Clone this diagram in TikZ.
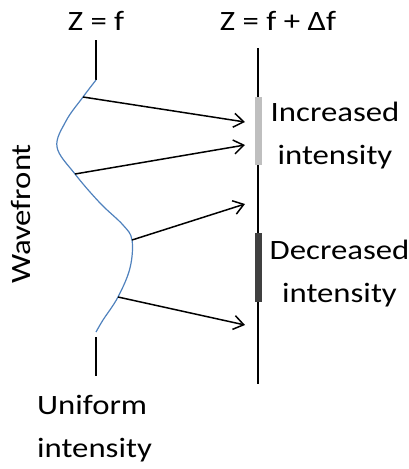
\documentclass[tikz,border=0pt]{standalone}
\usepackage{fontspec}
\setmainfont{Carlito}[FakeStretch=1.17]
\usetikzlibrary{arrows.meta}
\definecolor{waveblue}{HTML}{4F81BD}
\definecolor{lightbar}{HTML}{BFBFBF}
\definecolor{darkbar}{HTML}{404040}
\tikzset{
  lbl/.style={font=\fontsize{28}{43}\selectfont, inner sep=0pt, align=center},
  tick/.style={line width=1.3pt, black},
  ray/.style={line width=1.5pt, -{Straight Barb[length=10pt, width=14pt, line width=1.5pt]}},
  wave/.style={line width=1.2pt, waveblue},
}
\begin{document}
\begin{tikzpicture}[x=1pt, y=-1pt]
  \useasboundingbox (0,0) rectangle (409,469);
  % labels (multi-line nodes are anchored on the baseline of their last line)
  \node[lbl, anchor=base] (zf) at (96,30) {Z = f};
  \node[lbl, anchor=base] (zdf) at (278,30) {Z = f + Δf};
  \node[lbl, anchor=base] (inc) at (335,164) {Increased\\intensity};
  \node[lbl, anchor=base] (dec) at (339.5,302) {Decreased\\intensity};
  \node[lbl, anchor=base west, align=left] (uni) at (37,457) {Uniform\\intensity};
  \node[lbl, rotate=90] (wf) at (21,214) {Wavefront};
  % left ticks
  \coordinate (wtop) at (96,80);
  \coordinate (wbot) at (96,332);
  \draw[tick] (96,40) -- (wtop);
  \draw[tick] (96,337) -- (96,376);
  % observation plane
  \draw[tick] (258,48) -- (258,384);
  \fill[lightbar] (255,97) rectangle (262,165);
  \fill[darkbar] (255,233) rectangle (262,302);
  % wavefront
  \coordinate (p1) at (83,97);
  \coordinate (p2) at (75,174);
  \coordinate (p3) at (132,240);
  \coordinate (p4) at (118,297);
  \draw[wave] plot[smooth, tension=0.6] coordinates {(96,80) (83,97) (66,121) (57,147) (75,174) (100,203) (123,225) (132,240) (130,268) (118,297) (103,320) (96,332)};
  % rays
  \coordinate (q1) at (245,122);
  \coordinate (q2) at (245,145);
  \coordinate (q3) at (245,204);
  \coordinate (q4) at (245,325);
  \draw[ray] (p1) -- (q1);
  \draw[ray] (p2) -- (q2);
  \draw[ray] (p3) -- (q3);
  \draw[ray] (p4) -- (q4);
\end{tikzpicture}
\end{document}
